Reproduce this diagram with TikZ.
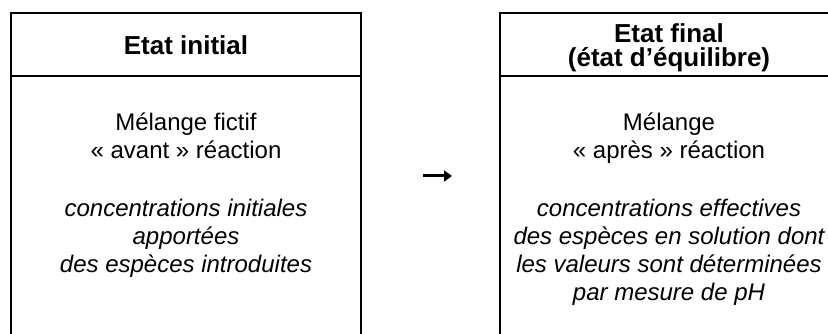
\documentclass[tikz,border=0pt]{standalone}
\usepackage{fontspec}
\setmainfont{Liberation Sans}
\usetikzlibrary{arrows.meta}
\begin{document}
\begin{tikzpicture}[x=1pt,y=-1pt,
  frame/.style={line width=2.4pt},
  title/.style={font=\fontsize{26}{24}\selectfont\bfseries, align=center, anchor=base, inner sep=0pt},
  body/.style={font=\fontsize{24}{28}\selectfont, align=center, anchor=base, inner sep=0pt},
  note/.style={body, font=\fontsize{24}{28}\selectfont\itshape},
  stagearrow/.style={line width=3pt, -{Triangle[length=8pt,width=11pt]}}]
\useasboundingbox (0,0) rectangle (828,334);
\clip (0,0) rectangle (828,334);

% the two stage cells, open towards the bottom of the page
\draw[frame] (11,13) rectangle (361,380);
\draw[frame] (11,76) -- (361,76);
\draw[frame] (500,13) rectangle (850,380);
\draw[frame] (500,76) -- (850,76);

% initial state (multi-line nodes are placed by the baseline of their last line)
\node[title] (initTitle) at (186,55) {Etat initial};
\node[body] (initMix) at (186,159) {Mélange fictif\\« avant » réaction};
\node[note] (initConc) at (186,272) {concentrations initiales\\apportées\hspace*{42pt}\\des espèces introduites};

% final state
\node[title] (finTitle) at (669,67) {Etat final\\(état d’équilibre)};
\node[body] (finMix) at (669,159) {Mélange\\« après » réaction};
\node[note] (finConc) at (669,300) {concentrations effectives\\des espèces en solution dont\\les valeurs sont déterminées\\par mesure de pH};

% evolution arrow between the two states
\coordinate (arrowStart) at (423,176);
\coordinate (arrowEnd) at (452,176);
\draw[stagearrow] (arrowStart) -- (arrowEnd);
\end{tikzpicture}
\end{document}
